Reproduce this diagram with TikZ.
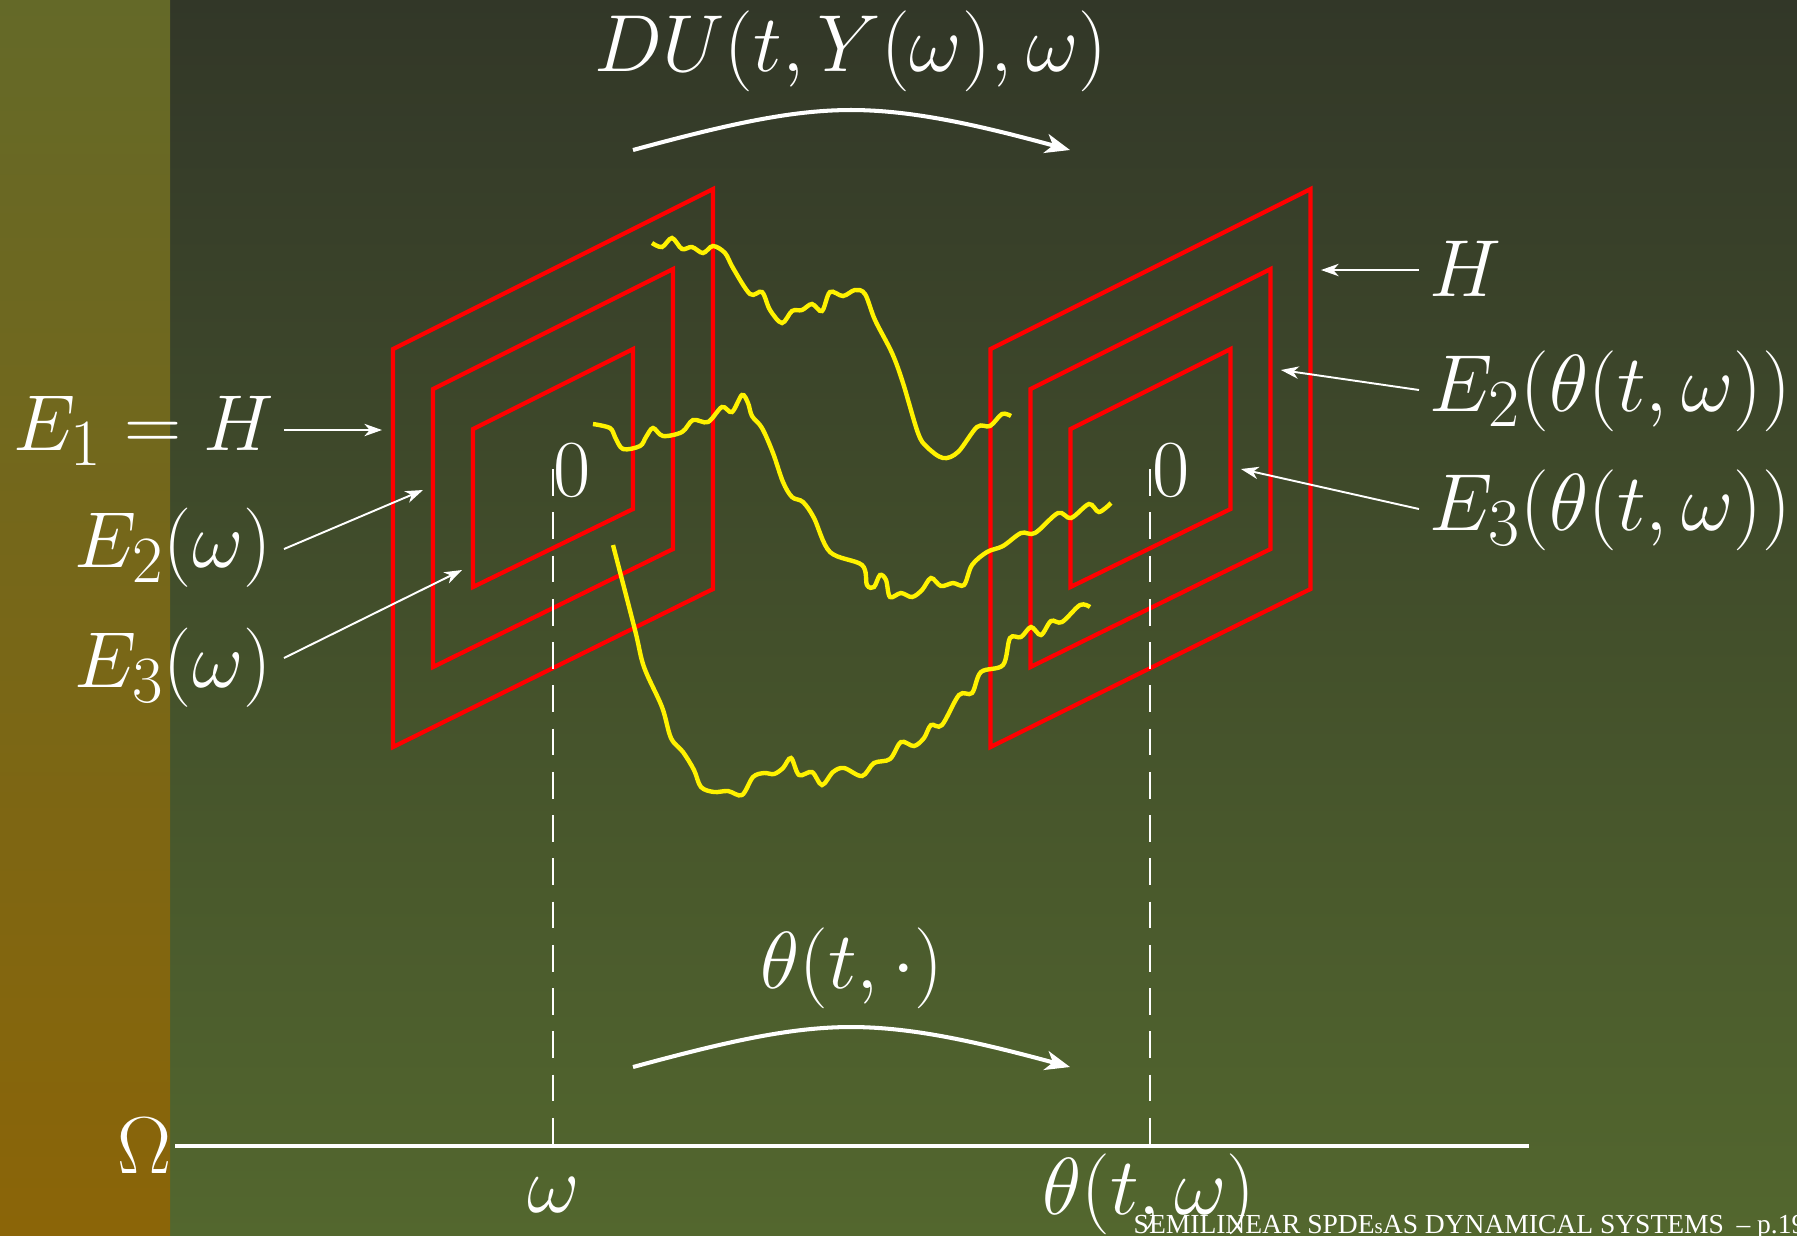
\documentclass[tikz,border=0pt]{standalone}
\usepackage{fontspec}
\usetikzlibrary{arrows.meta}
\newfontfamily\footfont{Liberation Serif}
\definecolor{maintop}{HTML}{323728}
\definecolor{mainbot}{HTML}{53672E}
\definecolor{striptop}{HTML}{646928}
\definecolor{stripbot}{HTML}{8B6508}
\begin{document}
\begin{tikzpicture}[x=0.01cm,y=-0.01cm,>={Stealth[length=7pt,width=5.5pt,inset=2pt]},
    lab/.style={text=white,font=\Huge,scale=0.925,inner sep=0pt,anchor=base},
    redframe/.style={red,line width=1.2pt},
    wiener/.style={yellow,line width=1.25pt},
    guide/.style={white,line width=0.7pt,dash pattern=on 7.6pt off 4.7pt},
    flow/.style={white,line width=1.15pt,->},
    pointer/.style={white,line width=0.55pt,-{Stealth[length=5pt,width=3.5pt,inset=1.5pt]}}]
  \useasboundingbox (0,0) rectangle (1797,1235);
  % backdrop
  \fill[top color=maintop,bottom color=mainbot] (0,0) rectangle (1797,1235);
  \fill[top color=striptop,bottom color=stripbot] (0,0) rectangle (170,1235);
  % nested frames
  \foreach \dx in {0,597.5} {
    \foreach \k in {0,40,80} {
      \draw[redframe] (393+\dx+\k,349+\k) -- (713+\dx-\k,189+2*\k) -- (713+\dx-\k,589-\k) -- (393+\dx+\k,747-2*\k) -- cycle;
    }
  }
  % sample paths
  \draw[wiener] plot[smooth,tension=0.55] coordinates {(652,243) (662,247) (672,238) (682,249) (692,247) (703,253) (713,246) (725,253) (733,268) (750,294) (762,292) (770,310) (782,323) (792,311) (802,310) (812,304) (822,311) (830,292) (843,296) (855,290) (865,294) (875,320) (892,353) (903,383) (918,433) (927,447) (943,458) (958,452) (977,427) (990,426) (1002,414) (1011,416)};
  \draw[wiener] plot[smooth,tension=0.55] coordinates {(593,424) (610,428) (615,437) (623,449) (640,446) (646,437) (653,428) (663,436) (682,432) (693,420) (708,422) (722,407) (732,412) (742,395) (748,403) (752,416) (762,428) (773,453) (783,482) (792,497) (803,502) (814,518) (830,552) (862,565) (867,585) (874,587) (880,575) (886,580) (890,597) (901,593) (912,597) (922,590) (931,578) (941,586) (953,583) (964,585) (972,565) (987,552) (1003,546) (1021,533) (1035,533) (1058,513) (1071,518) (1089,504) (1099,512) (1111,503)};
  \draw[wiener] plot[smooth,tension=0.55] coordinates {(613,545) (635,630) (644,667) (662,707) (671,738) (683,752) (694,770) (701,787) (714,792) (728,791) (742,795) (753,777) (764,773) (774,774) (783,768) (791,758) (799,775) (812,772) (822,785) (833,772) (844,768) (862,776) (874,763) (890,759) (901,742) (914,746) (924,738) (931,725) (942,725) (959,695) (972,693) (981,672) (1003,665) (1010,638) (1021,637) (1031,627) (1041,635) (1051,621) (1062,622) (1080,605) (1090,607)};
  % base line
  \coordinate (axisL) at (175,1146);
  \coordinate (axisR) at (1529,1146);
  \coordinate (omegaB) at (553,1146);
  \coordinate (omegaT) at (553,469);
  \coordinate (thetaB) at (1150,1146);
  \coordinate (thetaT) at (1150,469);
  \draw[guide] (omegaT) -- (omegaB);
  \draw[guide] (thetaT) -- (thetaB);
  \draw[white,line width=1.3pt] (axisL) -- (axisR);
  % curved maps
  \coordinate (duL) at (633,150);
  \coordinate (duM) at (851,110);
  \coordinate (duR) at (1070,150);
  \coordinate (thL) at (633,1067);
  \coordinate (thM) at (851,1027);
  \coordinate (thR) at (1070,1067);
  \draw[flow] (duL) .. controls (725,125) and (790,110) .. (duM) .. controls (912,110) and (978,125) .. (duR);
  \draw[flow] (thL) .. controls (725,1042) and (790,1027) .. (thM) .. controls (912,1027) and (978,1042) .. (thR);
  % labels
  \node[lab] (du) at (851,71) {$DU(t,Y(\omega),\omega)$};
  \node[lab,scale=0.98,anchor=base east] (e1) at (275,450) {$E_1=H$};
  \node[lab,scale=0.98,anchor=base east] (e2) at (272,567) {$E_2(\omega)$};
  \node[lab,scale=0.98,anchor=base east] (e3) at (272,687) {$E_3(\omega)$};
  \node[lab,anchor=base west] (h) at (1429,296) {$H$};
  \node[lab,anchor=base west] (e2t) at (1429,411) {$E_2(\theta(t,\omega))$};
  \node[lab,anchor=base west] (e3t) at (1429,530) {$E_3(\theta(t,\omega))$};
  \node[lab] (zeroL) at (572,496) {$0$};
  \node[lab] (zeroR) at (1171,496) {$0$};
  \node[lab] (th) at (852,988) {$\theta(t,\cdot)$};
  \node[lab,anchor=base east] (om) at (172,1173) {$\Omega$};
  \node[lab] (w) at (554,1212) {$\omega$};
  \node[lab] (thw) at (1149,1214) {$\theta(t,\omega)$};
  \node[text=white,font=\footfont\fontsize{7.83}{9}\selectfont,anchor=base west,inner sep=0pt] (foot) at (1133,1233) {SEMILINEAR SPDE{\fontsize{6}{7}\selectfont s}AS DYNAMICAL SYSTEMS\hspace{1.6pt} – p.19};
  % pointers
  \coordinate (e1a) at (382,430);
  \coordinate (e2a) at (423,490);
  \coordinate (e3a) at (462,570);
  \coordinate (ha) at (1321,270);
  \coordinate (e2ta) at (1281,370);
  \coordinate (e3ta) at (1241,469);
  \draw[pointer] (284,430) -- (e1a);
  \draw[pointer] (284,549) -- (e2a);
  \draw[pointer] (284,658) -- (e3a);
  \draw[pointer] (1419,270) -- (ha);
  \draw[pointer] (1419,390) -- (e2ta);
  \draw[pointer] (1419,509) -- (e3ta);
\end{tikzpicture}
\end{document}
